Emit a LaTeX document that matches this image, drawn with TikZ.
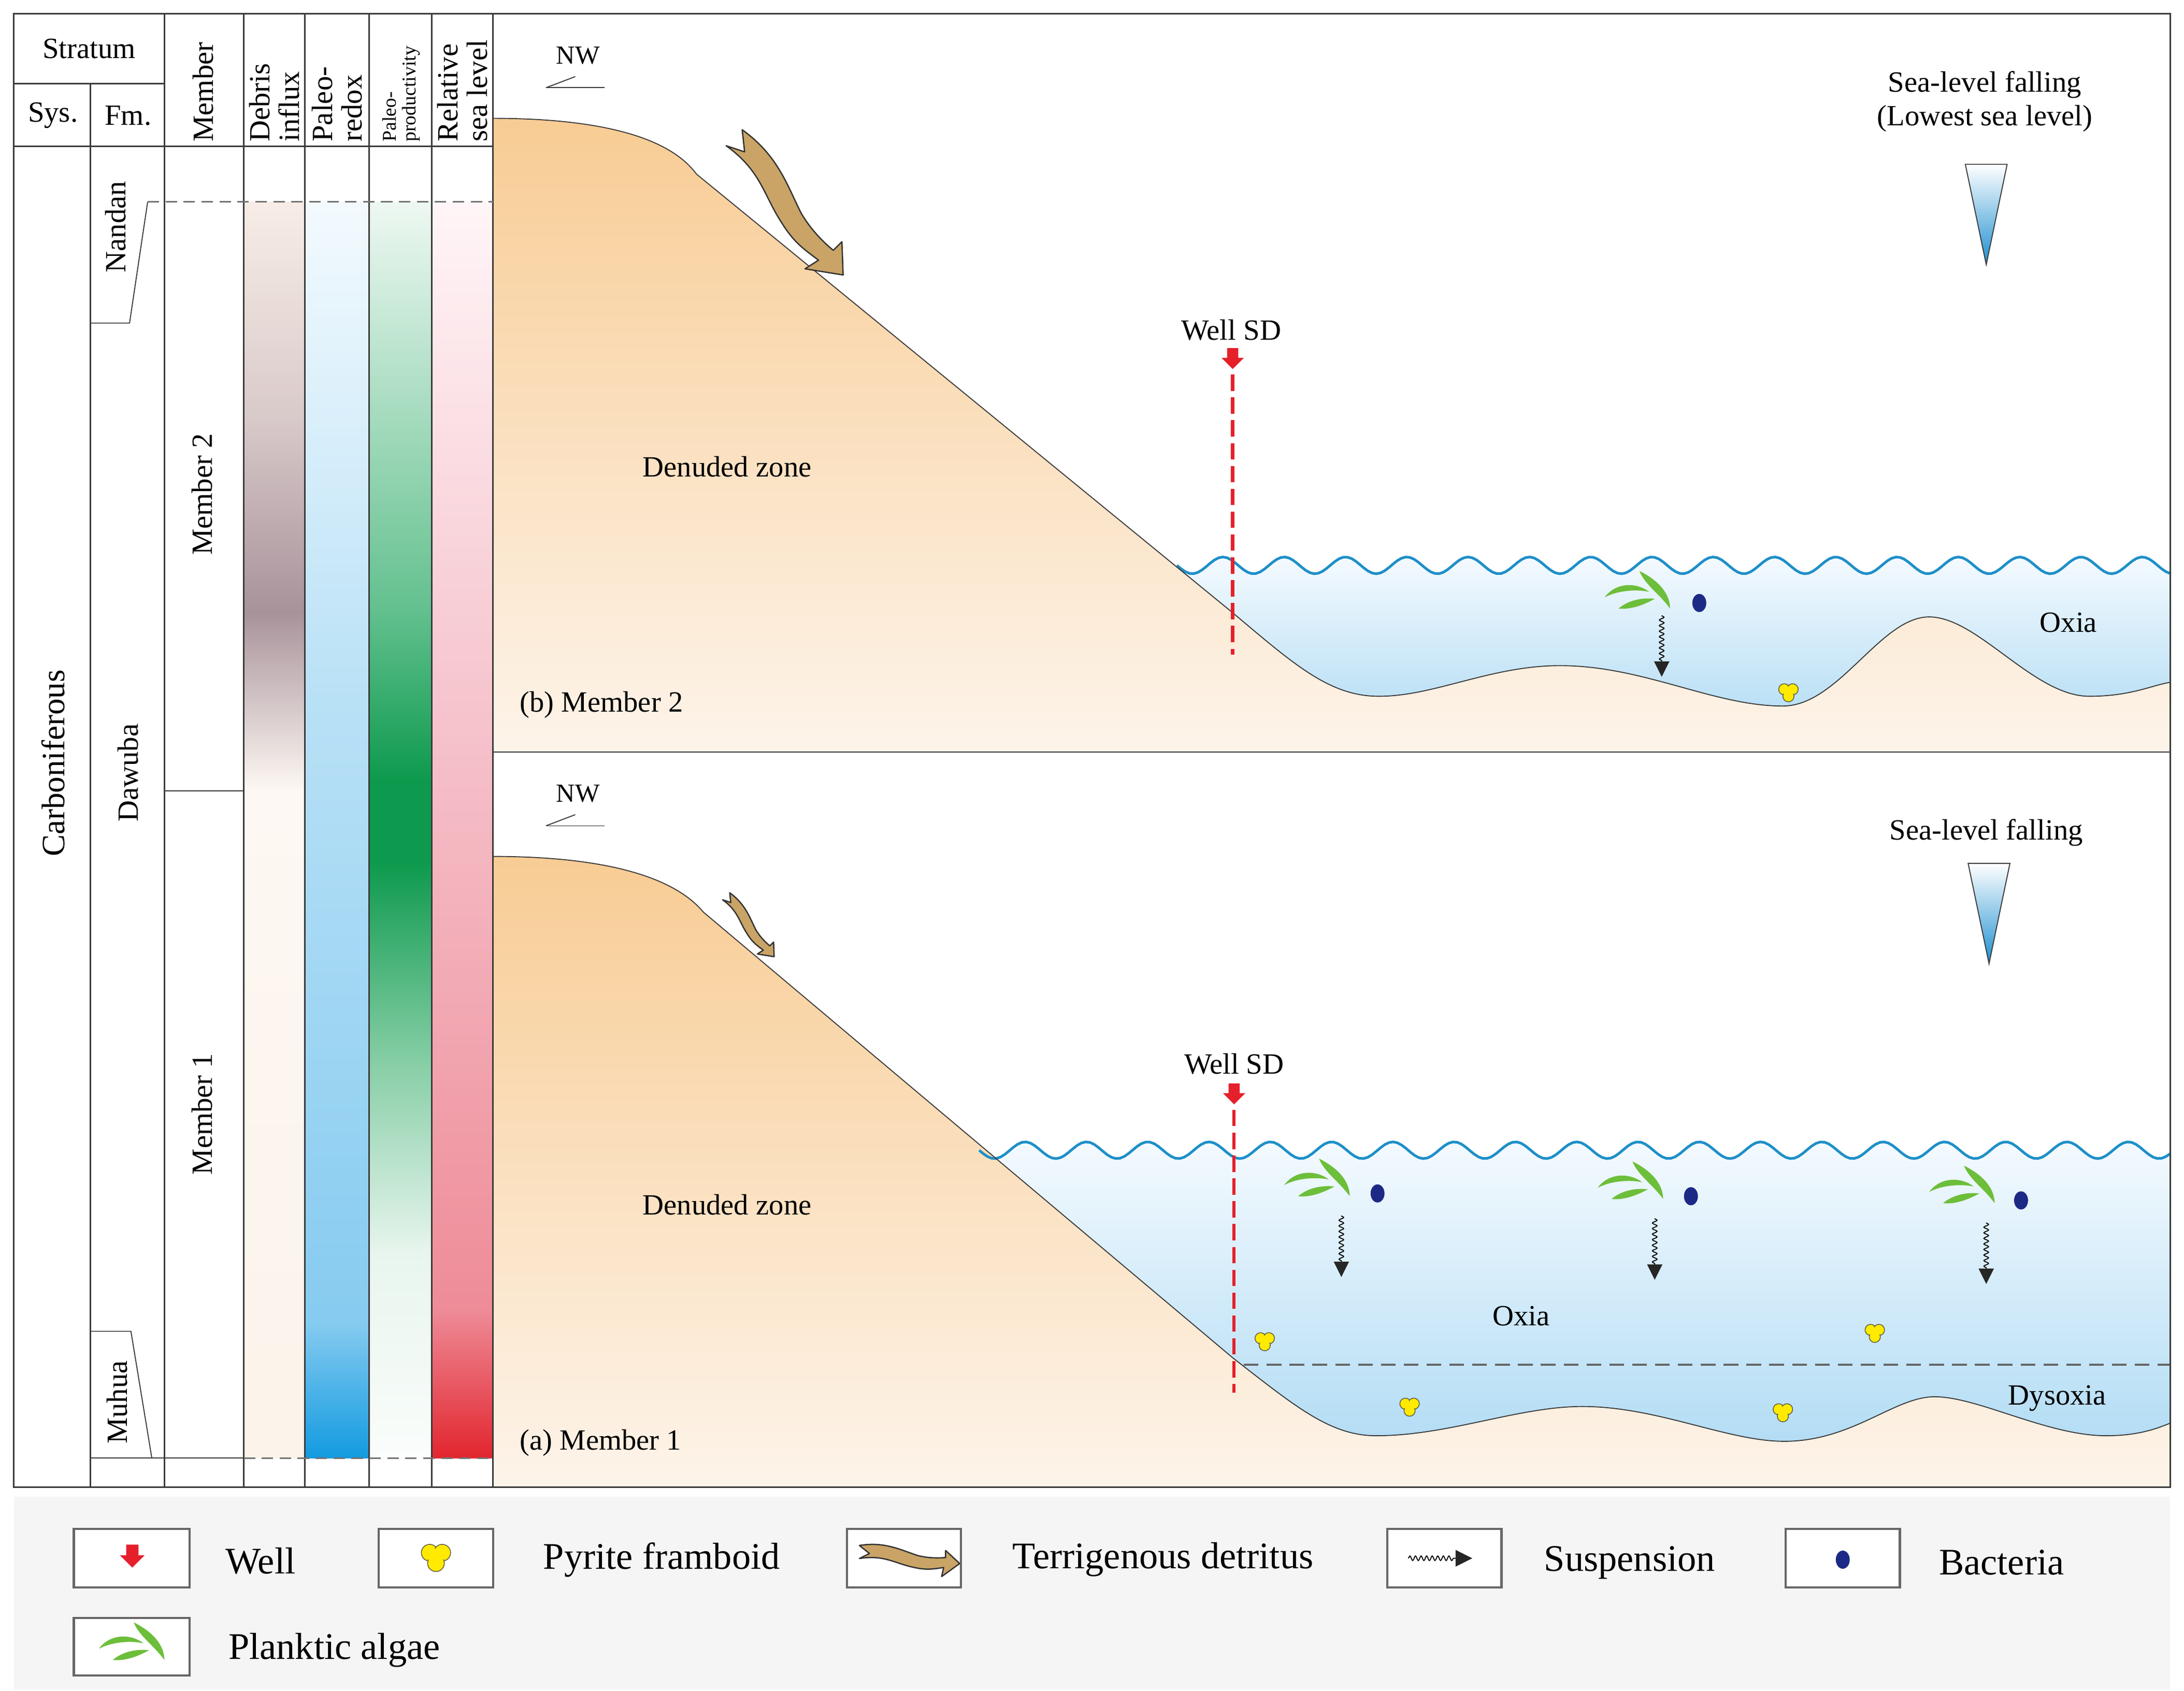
\documentclass[tikz,border=0pt]{standalone}
\usepackage{fontspec}
\setmainfont{Liberation Serif}
\usetikzlibrary{decorations.pathmorphing}
\newcommand\fsz[1]{\fontsize{#1}{#1}\selectfont}
\definecolor{lineC}{HTML}{3A3A3A}
\definecolor{landT}{HTML}{F8CC94}
\definecolor{landB}{HTML}{FDF4EA}
\definecolor{watT}{HTML}{F4FAFE}
\definecolor{watB}{HTML}{A9D8F3}
\definecolor{waveC}{HTML}{1E8FC8}
\definecolor{wellC}{HTML}{E5202B}
\definecolor{algC}{HTML}{6DBE3A}
\definecolor{bacC}{HTML}{1C2A86}
\definecolor{pyrC}{HTML}{FFEA00}
\definecolor{detC}{HTML}{C9A466}
\definecolor{dA}{HTML}{F7EDE6}\definecolor{dB}{HTML}{D9CACA}\definecolor{dC}{HTML}{A8929A}
\definecolor{dD}{HTML}{FDF8F3}\definecolor{dE}{HTML}{FCF3EA}
\definecolor{rA}{HTML}{F3FAFE}\definecolor{rB}{HTML}{B9E1F6}\definecolor{rC}{HTML}{86CBF0}\definecolor{rD}{HTML}{139BE0}
\definecolor{pA}{HTML}{EEF8F2}\definecolor{pB}{HTML}{62C08E}\definecolor{pC}{HTML}{0E9A4E}
\definecolor{pD}{HTML}{84CDA4}\definecolor{pE}{HTML}{E8F5EE}\definecolor{pF}{HTML}{FAFDFB}
\definecolor{sA}{HTML}{FFF5F7}\definecolor{sB}{HTML}{F6C5CE}\definecolor{sC}{HTML}{EE8C98}\definecolor{sD}{HTML}{E2262F}
\definecolor{triC}{HTML}{1E8FD0}
\begin{document}
\begin{tikzpicture}[x=0.03cm,y=-0.03cm,
  frm/.style={draw=lineC,line width=0.9pt},
  thn/.style={draw=lineC,line width=0.6pt},
  dsh/.style={draw=black!55,line width=0.9pt,dash pattern=on 7pt off 4pt},
  lbl/.style={inner sep=0pt,font=\fsz{18}},
  hd/.style={inner sep=0pt,font=\fsz{18},rotate=90,anchor=west,align=left},
  lg/.style={inner sep=0pt,font=\fsz{23}},
  lgbox/.style={draw=black!60,line width=1.3pt,fill=white},
  welldash/.style={draw=wellC,line width=2pt,dash pattern=on 10pt off 4pt},
  welltip/.pic={\fill[wellC] (-4,-8) -- (4,-8) -- (4,-1) -- (8,-1) -- (0,7) -- (-8,-1) -- (-4,-1) -- cycle;},
  pyr/.pic={\foreach \p in {(-3,-2),(3,-2),(0,3)}{\filldraw[fill=pyrC,draw=black!70!yellow,line width=0.5pt] \p circle (4);}
            \foreach \p in {(-3,-2),(3,-2),(0,3)}{\fill[pyrC] \p circle (3.3);}},
  bac/.pic={\fill[bacC] (0,0) ellipse (5 and 6.5);},
  alg/.pic={\fill[algC] (2,-18) .. controls (18,-10) and (24,0) .. (24,9) .. controls (16,-2) and (6,-8) .. cycle;
            \fill[algC] (-23,1) .. controls (-15,-10) and (0,-10) .. (9,-3) .. controls (0,-5) and (-14,-4) .. cycle;
            \fill[algC] (-13,9) .. controls (-6,3) and (4,1) .. (13,2) .. controls (6,6) and (-4,10) .. cycle;},
  susp/.pic={\draw[black,line width=0.6pt,decorate,decoration={snake,segment length=1.2mm,amplitude=0.5mm}] (0,0) -- (0,34);
             \fill[black!85] (-5.5,33) -- (5.5,33) -- (0,44) -- cycle;},
  detr/.pic={\filldraw[fill=detC,draw=black!80,line width=0.8pt,line join=round]
     (0,-10) -- (10,-2) -- (0,3) .. controls (25,-1) and (35,8) .. (55,12) .. controls (68,15) and (76,13) .. (84,12)
     -- (82,21) -- (100,8) -- (86,-5) -- (86,2) .. controls (75,3) and (66,2) .. (58,0) .. controls (40,-6) and (25,-14) .. cycle;}
]
\useasboundingbox (0,0) rectangle (1568,1214);
\fill[white] (0,0) rectangle (1568,1214);
\fill[black!4] (10,1075) rectangle (1558,1213);

% ---------- column gradients ----------
\shade[top color=dA,bottom color=dB] (175,145) rectangle (219,300);
\shade[top color=dB,bottom color=dC] (175,299.5) rectangle (219,440);
\shade[top color=dC,bottom color=dD] (175,439.5) rectangle (219,568);
\shade[top color=dD,bottom color=dE] (175,567.5) rectangle (219,1047);

\shade[top color=rA,bottom color=rB] (219,145) rectangle (265,500);
\shade[top color=rB,bottom color=rC] (219,499.5) rectangle (265,950);
\shade[top color=rC,bottom color=rD] (219,949.5) rectangle (265,1047);

\shade[top color=pA,bottom color=pB] (265,145) rectangle (310,440);
\shade[top color=pB,bottom color=pC] (265,439.5) rectangle (310,560);
\fill[pC] (265,559.5) rectangle (310,620);
\shade[top color=pC,bottom color=pD] (265,619.5) rectangle (310,760);
\shade[top color=pD,bottom color=pE] (265,759.5) rectangle (310,900);
\shade[top color=pE,bottom color=pF] (265,899.5) rectangle (310,1047);

\shade[top color=sA,bottom color=sB] (310,145) rectangle (354,500);
\shade[top color=sB,bottom color=sC] (310,499.5) rectangle (354,940);
\shade[top color=sC,bottom color=sD] (310,939.5) rectangle (354,1047);

% ---------- panel (b) ----------
\shade[top color=watT,bottom color=watB] plot[domain=845:1558,samples=240] (\x,{406+6*sin(8.18182*(\x-845))}) -- (1558,540) -- (845,540) -- cycle;
\shade[top color=landT,bottom color=landB] (354,85) .. controls (420,85) and (478,95) .. (500,125) -- (885,440)
  .. controls (930,478) and (955,500) .. (990,500) .. controls (1030,500) and (1070,478) .. (1120,478)
  .. controls (1180,478) and (1230,507) .. (1280,507) .. controls (1320,507) and (1350,443) .. (1385,443)
  .. controls (1420,443) and (1460,500) .. (1500,500) .. controls (1530,500) and (1545,492) .. (1558,490)
  -- (1558,540) -- (354,540) -- cycle;
\draw[waveC,line width=1.6pt] plot[domain=845:1558,samples=240] (\x,{406+6*sin(8.18182*(\x-845))});
\draw[thn] (354,85) .. controls (420,85) and (478,95) .. (500,125) -- (885,440)
  .. controls (930,478) and (955,500) .. (990,500) .. controls (1030,500) and (1070,478) .. (1120,478)
  .. controls (1180,478) and (1230,507) .. (1280,507) .. controls (1320,507) and (1350,443) .. (1385,443)
  .. controls (1420,443) and (1460,500) .. (1500,500) .. controls (1530,500) and (1545,492) .. (1558,490);

% ---------- panel (a) ----------
\shade[top color=watT,bottom color=watB] plot[domain=703:1558,samples=280] (\x,{826+6*sin(8.18182*(\x-703))}) -- (1558,1068) -- (703,1068) -- cycle;
\shade[top color=landT,bottom color=landB] (354,615) .. controls (420,615) and (480,625) .. (505,655) -- (885,975)
  .. controls (930,1010) and (955,1031) .. (988,1031) .. controls (1040,1031) and (1090,1010) .. (1136,1010)
  .. controls (1190,1010) and (1240,1035) .. (1281,1035) .. controls (1330,1035) and (1360,1003) .. (1389,1003)
  .. controls (1420,1003) and (1470,1031) .. (1512,1031) .. controls (1535,1031) and (1548,1026) .. (1558,1022)
  -- (1558,1068) -- (354,1068) -- cycle;
\draw[waveC,line width=1.6pt] plot[domain=703:1558,samples=280] (\x,{826+6*sin(8.18182*(\x-703))});
\draw[thn] (354,615) .. controls (420,615) and (480,625) .. (505,655) -- (885,975)
  .. controls (930,1010) and (955,1031) .. (988,1031) .. controls (1040,1031) and (1090,1010) .. (1136,1010)
  .. controls (1190,1010) and (1240,1035) .. (1281,1035) .. controls (1330,1035) and (1360,1003) .. (1389,1003)
  .. controls (1420,1003) and (1470,1031) .. (1512,1031) .. controls (1535,1031) and (1548,1026) .. (1558,1022);
\coordinate (dysL) at (893,980); \coordinate (dysR) at (1558,980);
\draw[black!60,line width=1.4pt,dash pattern=on 9pt off 5pt] (dysL) -- (dysR);

% ---------- frame and table ----------
\draw[frm] (10,10) rectangle (1558,1068);
\draw[frm] (354,540) -- (1558,540);
\foreach \xx in {118,175,219,265,310,354} {\draw[frm] (\xx,10) -- (\xx,1068);}
\draw[frm] (65,60) -- (65,1068);
\draw[frm] (10,60) -- (118,60);
\draw[frm] (10,105) -- (354,105);
\draw[thn] (65,232) -- (93,232) -- (106,145);
\draw[thn] (118,568) -- (175,568);
\draw[thn] (65,956) -- (94,956) -- (109,1047);
\draw[thn] (65,1047) -- (175,1047);
\draw[dsh] (106,145) -- (354,145);
\draw[dsh] (175,1047) -- (354,1047);

% headers
\node[lbl] (strat) at (64,35) {Stratum};
\node[lbl] (sys) at (38,83) {Sys.};
\node[lbl] (fm) at (92,83) {Fm.};
\node[hd] (hmem) at (146,102) {Member};
\node[hd] (hdeb) at (197,102) {Debris\\influx};
\node[hd] (hred) at (242,102) {Paleo-\\redox};
\node[hd,font=\fsz{12}] (hpro) at (288,102) {Paleo-\\productivity};
\node[hd] (hsea) at (332,102) {Relative\\sea level};
\node[lbl,rotate=90,font=\fsz{20}] (carb) at (38,548) {Carboniferous};
\node[lbl,rotate=90] (nandan) at (83,163) {Nandan};
\node[lbl,rotate=90] (dawuba) at (92,555) {Dawuba};
\node[lbl,rotate=90] (muhua) at (84,1007) {Muhua};
\node[lbl,rotate=90] (m2) at (145,355) {Member 2};
\node[lbl,rotate=90] (m1) at (145,800) {Member 1};

% ---------- panel (b) content ----------
\node[lbl,font=\fsz{16}] (nwb) at (415,40) {NW};
\draw[thn] (392,63) -- (434,63); \draw[thn] (392,63) -- (413,55);
\node[lbl] (slb1) at (1425,61) {Sea-level falling};
\node[lbl] (slb2) at (1425,85) {(Lowest sea level)};
\shade[top color=white,bottom color=triC] (1411,118) -- (1441,118) -- (1426,190) -- cycle;
\draw[thn] (1411,118) -- (1441,118) -- (1426,190) -- cycle;
\pic[rotate=-45,scale=1.25] at (524,102) {detr};
\node[lbl] (wellb) at (884,237) {Well SD};
\pic at (885,258) {welltip};
\coordinate (wbt) at (885,269); \coordinate (wbb) at (885,470);
\draw[welldash] (wbt) -- (wbb);
\node[lbl] (denb) at (522,335) {Denuded zone};
\node[lbl] (oxb) at (1485,447) {Oxia};
\node[lbl,anchor=west] (capb) at (373,506) {(b) Member 2};
\pic at (1175,428) {alg};
\pic at (1220,433) {bac};
\pic at (1193,442) {susp};
\pic at (1284,497) {pyr};

% ---------- panel (a) content ----------
\node[lbl,font=\fsz{16}] (nwa) at (415,570) {NW};
\draw[thn] (392,593) -- (434,593); \draw[thn] (392,593) -- (413,585);
\node[lbl] (sla) at (1426,598) {Sea-level falling};
\shade[top color=white,bottom color=triC] (1413,620) -- (1443,620) -- (1428,692) -- cycle;
\draw[thn] (1413,620) -- (1443,620) -- (1428,692) -- cycle;
\pic[rotate=-45,scale=0.55] at (520,645) {detr};
\node[lbl] (wella) at (886,764) {Well SD};
\pic at (886,786) {welltip};
\coordinate (wat) at (886,797); \coordinate (wab) at (886,1000);
\draw[welldash] (wat) -- (wab);
\node[lbl] (dena) at (522,865) {Denuded zone};
\node[lbl] (oxa) at (1092,945) {Oxia};
\node[lbl] (dysa) at (1477,1004) {Dysoxia};
\node[lbl,anchor=west] (capa) at (373,1036) {(a) Member 1};
\foreach \ax/\bx/\yy in {945/989/850, 1170/1214/852, 1408/1451/855} {
  \pic at (\ax,\yy) {alg};
  \pic at (\bx,\yy+7) {bac};
  \pic at (\ax+18,\yy+23) {susp};
}
\foreach \p in {(908,963),(1012,1010),(1280,1014),(1346,957)} {\pic at \p {pyr};}

% ---------- legend ----------
\draw[lgbox] (53,1098) rectangle (136,1140);
\pic[scale=1.1] at (95,1118) {welltip};
\node[lg] (lwell) at (187,1121) {Well};
\draw[lgbox] (272,1098) rectangle (354,1140);
\pic[scale=1.5] at (313,1118) {pyr};
\node[lg] (lpyr) at (475,1120) {Pyrite framboid};
\draw[lgbox] (608,1098) rectangle (690,1140);
\pic[scale=0.72] at (617,1117) {detr};
\node[lg] (ldet) at (835,1120) {Terrigenous detritus};
\draw[lgbox] (996,1098) rectangle (1078,1140);
\draw[black,line width=0.6pt,decorate,decoration={snake,segment length=1.2mm,amplitude=0.5mm}] (1011,1119) -- (1045,1119);
\fill[black!85] (1045,1113) -- (1045,1125) -- (1057,1119) -- cycle;
\node[lg] (lsus) at (1170,1122) {Suspension};
\draw[lgbox] (1282,1098) rectangle (1364,1140);
\pic at (1323,1120) {bac};
\node[lg] (lbac) at (1437,1122) {Bacteria};
\draw[lgbox] (53,1162) rectangle (136,1203);
\pic at (94,1183) {alg};
\node[lg] (lalg) at (240,1185) {Planktic algae};
\end{tikzpicture}
\end{document}
